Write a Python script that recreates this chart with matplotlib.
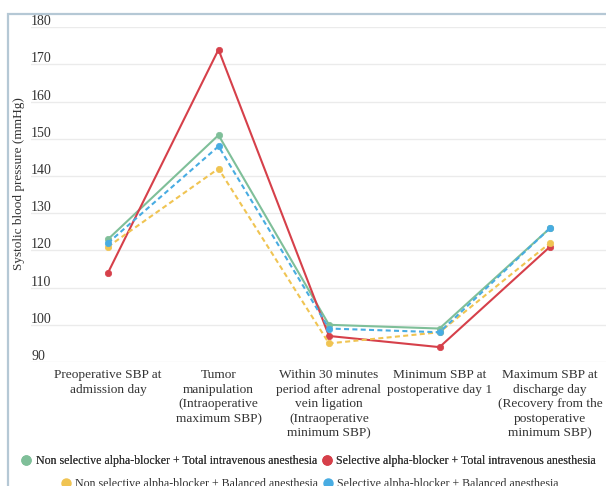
import matplotlib
matplotlib.use("Agg")
import matplotlib.pyplot as plt
from matplotlib.lines import Line2D
from matplotlib.patches import Rectangle
from matplotlib.transforms import offset_copy

plt.rcParams['font.family'] = ['Liberation Serif', 'DejaVu Serif']

categories = [
    "Preoperative SBP at\nadmission day",
    "Tumor\nmanipulation\n(Intraoperative\nmaximum SBP)",
    "Within 30 minutes\nperiod after adrenal\nvein ligation\n(Intraoperative\nminimum SBP)",
    "Minimum SBP at\npostoperative day 1",
    "Maximum SBP at\ndischarge day\n(Recovery from the\npostoperative\nminimum SBP)",
]

nonsel_tiva = [123, 151, 100, 99, 126]
sel_tiva = [114, 174, 97, 94, 121]
nonsel_balanced = [121, 142, 95, 98, 122]
sel_balanced = [122, 148, 99, 98, 126]

series_names = [
    "Non selective alpha-blocker + Total intravenous anesthesia",
    "Selective alpha-blocker + Total intravenous anesthesia",
    "Non selective alpha-blocker + Balanced anesthesia",
    "Selective alpha-blocker + Balanced anesthesia",
]

y_ticks = [90, 100, 110, 120, 130, 140, 150, 160, 170, 180]

colors = ["#7fbf99", "#d6404a", "#f0c452", "#48ace2"]
styles = ["-", "-", (0, (2.4, 1.6)), (0, (2.4, 1.6))]
text_color = "#333333"

W, H = 606, 486
fig = plt.figure(figsize=(W / 100, H / 100), dpi=100)

# panel border (left and top edges visible)
fig.patches.append(Rectangle((8 / W, -0.2), 1.2, 1 - 14 / H + 0.2,
                             transform=fig.transFigure, fill=False,
                             edgecolor="#b5c8d5", linewidth=1.6))

ax = fig.add_axes([31 / W, 1 - 362 / H, 1 - 31 / W, (362 - 27.3) / H])
for s in ax.spines.values():
    s.set_visible(False)

x = list(range(len(categories)))
all_series = [nonsel_tiva, sel_tiva, nonsel_balanced, sel_balanced]
for vals, c, ls in zip(all_series, colors, styles):
    ax.plot(x, vals, color=c, linestyle=ls, linewidth=1.5,
            marker="o", markersize=4.6, markeredgecolor=c,
            markeredgewidth=0.5, zorder=3)

ax.set_ylim(90, 180)
ax.set_yticks(y_ticks)
ax.yaxis.grid(True, color="#ebebeb", linewidth=1.0)
ax.set_axisbelow(True)
ax.tick_params(axis="y", length=0, labelleft=False)

label_tr = offset_copy(ax.get_yaxis_transform(), fig=fig, x=0, y=-1.0, units="dots")
for v in y_ticks:
    ax.text(0.0, v, str(v), transform=label_tr, ha="left", va="bottom",
            fontsize=10, color=text_color)

ax.set_xlim(-(108 - 31) / 110.5, 4 + (606 - 550) / 110.5)
ax.set_xticks(x)
ax.set_xticklabels(categories, fontsize=9.6, color=text_color, linespacing=1.3)
ax.tick_params(axis="x", length=0, pad=5)

fig.text(19 / W, 1 - 184 / H, "Systolic blood pressure (mmHg)", rotation=90,
         ha="center", va="center", fontsize=9.5, color=text_color)

handles = [Line2D([], [], linestyle="none", marker="o", markersize=6.5,
                  color=c) for c in colors]
legend_kw = dict(frameon=False, ncol=2, fontsize=8.6, handlelength=0.7,
                 handletextpad=0.45, columnspacing=0.45, borderpad=0,
                 labelcolor=text_color, loc="center")
leg1 = fig.legend(handles[:2], series_names[:2],
                  bbox_to_anchor=(309 / W, 1 - 461 / H), **legend_kw)
fig.add_artist(leg1)
fig.legend(handles[2:], series_names[2:],
           bbox_to_anchor=(310 / W, 1 - 484 / H), **legend_kw)

fig.savefig("out.png", dpi=100)
